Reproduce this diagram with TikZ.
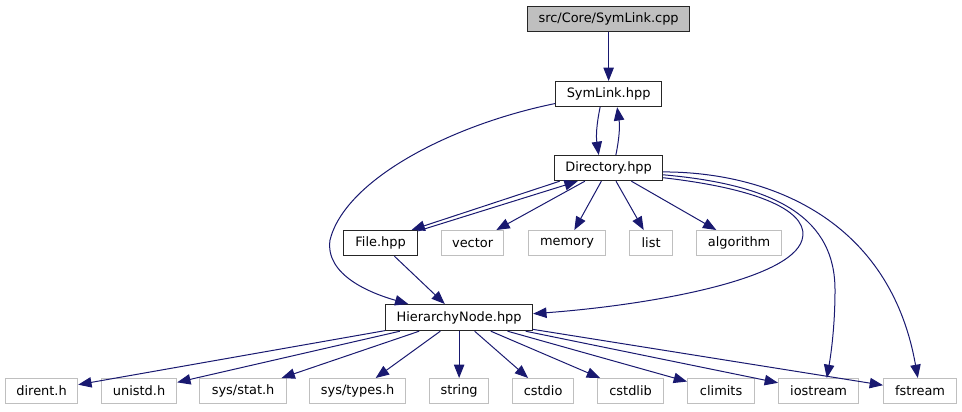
\documentclass[tikz,border=0pt]{standalone}
\usepackage{fontspec}
\setmainfont{DejaVu Sans}
\usetikzlibrary{arrows.meta}
\definecolor{edgeblue}{HTML}{191970}
\definecolor{extgray}{HTML}{BFBFBF}

\begin{document}
\begin{tikzpicture}[x=0.75pt,y=-0.75pt,font=\fontsize{9.7pt}{11pt}\selectfont,
  hdr/.style={draw=black!85,line width=0.9pt,fill=white,inner sep=0pt,anchor=north west,
    minimum height=18.75pt,minimum width=#1*0.75pt},
  hdr/.default=100,
  ext/.style={hdr=#1,draw=extgray},
  arr/.style={-{Triangle[length=10pt,width=7.8pt]},draw=edgeblue,line width=0.75pt}]
\useasboundingbox (0,0) rectangle (962,411);
% project headers
\node[hdr=162,fill=extgray] (cpp) at (527,6) {src/Core/SymLink.cpp};
\node[hdr=106] (sl) at (555,81) {SymLink.hpp};
\node[hdr=108] (dir) at (554,155) {Directory.hpp};
\node[hdr=74] (file) at (343,230) {File.hpp};
\node[hdr=147,minimum height=19.5pt] (hn) at (385,304) {HierarchyNode.hpp};
% system headers, middle row
\node[ext=62] (vec) at (441,230) {vector};
\node[ext=77] (mem) at (528,230) {memory};
\node[ext=43] (lst) at (629,230) {list};
\node[ext=85] (alg) at (696,230) {algorithm};
% system headers, bottom row
\node[ext=72] (dirent) at (5,378) {dirent.h};
\node[ext=75] (unistd) at (101,378) {unistd.h};
\node[ext=87] (stat) at (199,378) {sys/stat.h};
\node[ext=96] (types) at (309,378) {sys/types.h};
\node[ext=59] (str) at (429,378) {string};
\node[ext=61] (cstdio) at (512,378) {cstdio};
\node[ext=66] (cstdlib) at (597,378) {cstdlib};
\node[ext=67] (climits) at (687,378) {climits};
\node[ext=80] (ios) at (778,378) {iostream};
\node[ext=73] (fs) at (883,378) {fstream};
% includes of the top files
\draw[arr] (cpp) -- (sl);
\draw[arr] (sl.237) to[bend right=10] (dir.127);
\draw[arr] (dir.61) to[bend right=10] (sl.-57);
\draw[arr] (sl.190) .. controls (450,125) and (345,180) .. (330,240)
  .. controls (325,275) and (370,293) .. (hn.165);
% includes of Directory.hpp
\draw[arr] (dir.195) -- (file.23);
\draw[arr] (file.18) -- (dir.203);
\draw[arr] (dir) -- (vec);
\draw[arr] (dir) -- (mem);
\draw[arr] (dir) -- (lst);
\draw[arr] (dir) -- (alg);
\draw[arr] (dir.-10) .. controls (770,190) and (810,215) .. (802,240)
  .. controls (790,280) and (650,305) .. (hn.3);
\draw[arr] (dir.-7) .. controls (780,185) and (835,220) .. (835,290)
  .. controls (835,330) and (830,360) .. (ios.58);
\draw[arr] (dir.-4) .. controls (770,172) and (890,220) .. (fs.100);
% includes of File.hpp and HierarchyNode.hpp
\draw[arr] (file) -- (hn);
\foreach \h in {dirent,unistd,stat,types,str,cstdio,cstdlib,climits,ios,fs}
  \draw[arr] (hn) -- (\h);
\end{tikzpicture}
\end{document}
